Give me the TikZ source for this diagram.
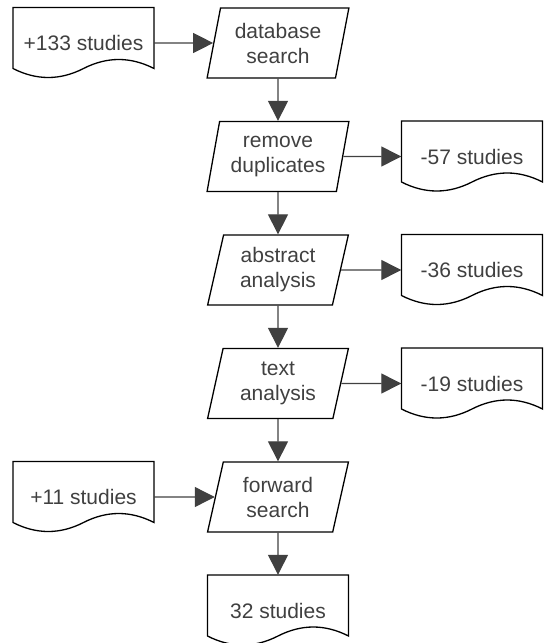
\documentclass[tikz,border=0pt]{standalone}
\usepackage{fontspec}
\setmainfont{Liberation Sans}
\usetikzlibrary{shapes.geometric,arrows.meta}
\definecolor{textgrey}{HTML}{404040}
\definecolor{arrowgrey}{HTML}{404040}

\newcommand{\docnode}[3]{%
  \draw[docline, shift={(#2)}] (-70.5,-35.5) -- (70.5,-35.5) -- (70.5,25.5)
  .. controls (47,13.5) and (23.5,13.5) .. (0,25.5)
  .. controls (-23.5,37.5) and (-47,37.5) .. (-70.5,25.5) -- cycle;
  \node[doc] (#1) at (#2) {#3};}

\begin{document}
\begin{tikzpicture}[x=1pt, y=-1pt,
  every node/.style={font=\fontsize{21}{25}\selectfont, text=textgrey, align=center},
  proc/.style={trapezium, trapezium left angle=76, trapezium right angle=104,
    trapezium stretches, minimum width=142pt, minimum height=70pt,
    draw=black, line width=1.3pt, inner sep=0pt},
  doc/.style={rectangle, minimum width=141pt, minimum height=71pt, inner sep=0pt},
  docline/.style={draw=black, fill=white, line width=1.3pt},
  flow/.style={draw=arrowgrey, line width=1.3pt, -{Triangle[length=20pt,width=20pt]}}]
    \useasboundingbox (0,0) rectangle (544,643);
    \node[proc] (search) at (278,43) {database\\search};
    \node[proc] (dupl) at (278,156.5) {remove\\duplicates};
    \node[proc] (abstr) at (278,270) {abstract\\analysis};
    \node[proc] (fulltext) at (278,383.5) {text\\analysis};
    \node[proc] (fwd) at (278,497) {forward\\search};
    \docnode{start}{83.5,43}{+133 studies}
    \docnode{added}{83.5,497}{+11 studies}
    \docnode{final}{278,610.5}{32 studies}
    \foreach \n/\y/\txt in {dupl/156.5/-57, abstr/270/-36, fulltext/383.5/-19}{
      \docnode{out\n}{472,\y}{\txt\ studies}
      \draw[flow] (\n) -- (out\n);}
    \draw[flow] (start) -- (search);
    \draw[flow] (added) -- (fwd);
    \draw[flow] (search) -- (dupl);
    \draw[flow] (dupl) -- (abstr);
    \draw[flow] (abstr) -- (fulltext);
    \draw[flow] (fulltext) -- (fwd);
    \draw[flow] (fwd) -- (final);
\end{tikzpicture}
\end{document}
